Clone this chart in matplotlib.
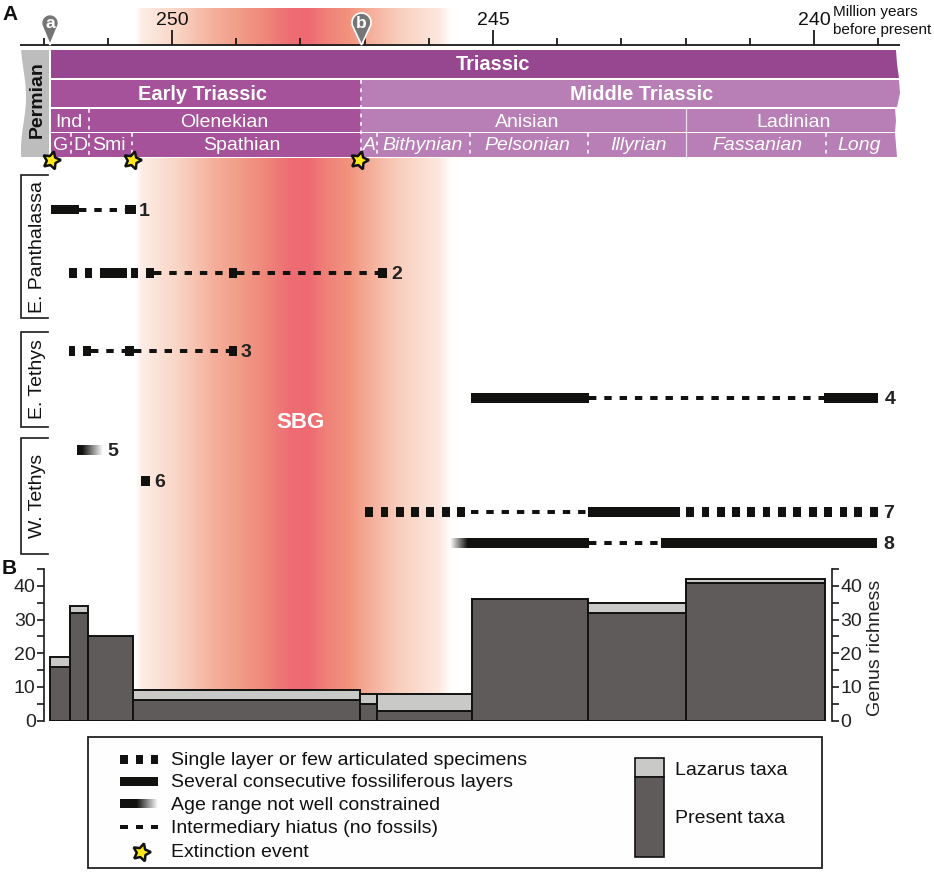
import numpy as np
import matplotlib
matplotlib.use("Agg")
import matplotlib.pyplot as plt
from matplotlib.patches import Polygon, Rectangle
from matplotlib.colors import LinearSegmentedColormap, to_rgb

plt.rcParams['font.family'] = ['Liberation Sans', 'DejaVu Sans']

# ---------- data ----------
time_ticks = list(range(252, 238, -1))
time_labels = [250, 245, 240]

# fossil ranges, ages in Ma (older, younger)
s1_blocks = [(251.89, 251.45), (250.73, 250.56)]
s1_hiatus = [(251.45, 250.73)]
s2_blocks = [(251.60, 251.48), (251.36, 251.25), (251.12, 250.70), (250.64, 250.53),
             (250.40, 250.28), (249.11, 248.99), (246.79, 246.65)]
s2_hiatus = [(250.28, 249.11), (248.99, 246.79)]
s3_blocks = [(251.60, 251.51), (251.39, 251.26), (250.73, 250.59), (249.11, 248.99)]
s3_hiatus = [(251.26, 250.73), (250.59, 249.11)]
s4_blocks = [(245.34, 243.50), (239.84, 239.00)]
s4_hiatus = [(243.50, 239.84)]
s5_fade = [(251.48, 251.09)]
s6_blocks = [(250.48, 250.34)]
s7_blocks = [(246.99, 246.87), (246.75, 246.63), (246.51, 246.39), (246.28, 246.16),
             (246.04, 245.92), (245.79, 245.67), (245.56, 245.44), (243.52, 242.08),
             (241.99, 241.87), (241.75, 241.63), (241.51, 241.39), (241.27, 241.15),
             (241.04, 240.92), (240.80, 240.68), (240.56, 240.44), (240.32, 240.20),
             (240.08, 239.96), (239.84, 239.72), (239.60, 239.48), (239.37, 239.25),
             (239.12, 239.00)]
s7_hiatus = [(245.34, 243.52)]
s8_blocks = [(245.33, 243.50), (242.38, 239.02)]
s8_hiatus = [(243.50, 242.38)]
s8_fade = [(245.67, 245.33)]

# genus richness
bin_edges = [251.90, 251.59, 251.31, 250.61, 247.07, 246.81, 245.33, 243.52, 242.00, 239.83]
present_taxa = [16, 32, 25, 6, 5, 3, 36, 32, 40.7]
total_taxa = [19, 34, 25, 9, 8, 8, 36, 35, 42]

# ---------- layout helpers ----------
W, H = 934, 877
fig = plt.figure(figsize=(W / 100, H / 100), dpi=100, facecolor='white')
PX = 100 / 72  # pixels per point
FS = 14


def age_at(px):
    return 250 + (172 - px) / 64.2


def axes_px(z, xlim=(0, W)):
    a = fig.add_axes([0, 0, 1, 1], zorder=z)
    a.set_xlim(*xlim)
    a.set_ylim(H, 0)
    a.axis('off')
    a.patch.set_alpha(0)
    return a


bg = axes_px(0)
ax_t = axes_px(2, (age_at(0), age_at(W)))   # x axis = age, y = page pixels
ov = axes_px(4)

# ---------- SBG background gradient ----------
stops = [(135, '#FFFFFF'), (141, '#FDEDE6'), (180, '#F9D2C2'), (215, '#F4AE9A'), (242, '#F19B86'),
         (270, '#EF8279'), (290, '#EE6C73'), (310, '#EE6A72'), (325, '#F07F78'), (350, '#F2937F'),
         (365, '#F4A893'), (400, '#F9CFBE'), (440, '#FDE8DF'), (452, '#FFFFFF')]
x0, x1 = stops[0][0], stops[-1][0]
cmap = LinearSegmentedColormap.from_list('sbg', [((p - x0) / (x1 - x0), c) for p, c in stops])
bg.imshow(np.linspace(0, 1, 512)[None, :], extent=(x0, x1, 720, 8), cmap=cmap, aspect='auto', zorder=0)
bg.set_xlim(0, W)
bg.set_ylim(H, 0)
bg.text(300, 422, 'SBG', color='white', fontsize=16, fontweight='bold', ha='center', va='center')

# ---------- time axis ----------
ax_t.plot([age_at(20), age_at(900)], [45, 45], color='#1a1a1a', lw=1.3, solid_capstyle='butt')
for t in time_ticks:
    major = t in time_labels
    ax_t.plot([t, t], [45, 30 if major else 38], color='#1a1a1a', lw=1.3, solid_capstyle='butt')
    if major:
        ax_t.text(t, 20.5, str(t), fontsize=FS, ha='center', va='center', color='#111111')
ov.text(833, 12, 'Million years', fontsize=11, ha='left', va='center', color='#111111')
ov.text(833, 30, 'before present', fontsize=11, ha='left', va='center', color='#111111')

# ---------- stratigraphic band ----------
ov.add_patch(Rectangle((50, 46), 852, 112, fc='white', ec='none', zorder=1))
C1, C2, C3 = '#96478F', '#A5529A', '#B87EB6'
band_right = {50: 896, 78: 899, 80: 899, 107: 897, 109: 895, 132: 895, 133: 895, 157: 897}


def band(x_a, x_b, y_a, y_b, c):
    if x_b >= 890:
        ym = (y_a + y_b) / 2
        pts = [(x_a, y_a), (band_right[y_a], y_a), (band_right[y_a] + 1, ym), (band_right[y_b], y_b), (x_a, y_b)]
    else:
        pts = [(x_a, y_a), (x_b, y_a), (x_b, y_b), (x_a, y_b)]
    ov.add_patch(Polygon(pts, closed=True, fc=c, ec='none', zorder=2))


band(51, 900, 50, 78, C1)
band(51, 360.5, 80, 107, C2)
band(360.5, 900, 80, 107, C3)
band(51, 360.5, 109, 132, C2)
band(360.5, 900, 109, 132, C3)
band(51, 360.5, 133, 157, C2)
band(360.5, 900, 133, 157, C3)

yy = np.linspace(50, 157, 40)
xx = 23.5 - 2.5 * np.cos((yy - 50) / 107 * 2 * np.pi + 0.4)
perm = [(49, 50), (49, 157)] + list(zip(xx[::-1], yy[::-1]))
ov.add_patch(Polygon(perm, closed=True, fc='#BDBDBD', ec='none', zorder=2))
ov.text(37.5, 100, 'Permian', rotation=90, fontsize=FS, fontweight='bold', ha='center', va='center', color='#111111')

names_bold = [('Triassic', 493, 65), ('Early Triassic', 203, 94), ('Middle Triassic', 642, 94)]
for s, x, y in names_bold:
    ov.text(x, y, s, color='white', fontsize=14.4, fontweight='bold', ha='center', va='center', zorder=3)
names_stage = [('Ind', 69, 122.5), ('Olenekian', 224, 122.5), ('Anisian', 527, 122.5), ('Ladinian', 794, 122.5)]
for s, x, y in names_stage:
    ov.text(x, y, s, color='white', fontsize=FS, ha='center', va='center', zorder=3)
names_sub = [('G', 61, 146), ('D', 80, 146), ('Smi', 109, 146), ('Spathian', 242, 146)]
for s, x, y in names_sub:
    ov.text(x, y, s, color='white', fontsize=FS, ha='center', va='center', zorder=3)
names_sub_it = [('A', 369, 146), ('Bithynian', 423, 146), ('Pelsonian', 527, 146), ('Illyrian', 638, 146),
                ('Fassanian', 757, 146), ('Long', 859, 146)]
for s, x, y in names_sub_it:
    ov.text(x, y, s, color='white', fontsize=FS, style='italic', ha='center', va='center', zorder=3)

dot = dict(color='white', lw=1.1, ls=(0, (2.5, 3)), zorder=3)
ov.plot([360.5, 360.5], [80, 157], **dot)
ov.plot([89, 89], [109, 157], **dot)
ov.plot([71, 71], [133, 157], **dot)
for x in (132, 377, 470, 588, 826):
    ov.plot([x, x], [133, 157], **dot)
ov.plot([685.5, 685.5], [109, 157], color='#EBDCEB', lw=0.9, zorder=3)
ov.plot([50, 50], [50, 157], color='white', lw=1.2, zorder=3)

# ---------- pins ----------


def pin(cx, cy, r, tip, letter):
    th = np.radians(np.linspace(-30, 210, 40))
    xs = cx + r * np.cos(th)
    ys = cy - r * np.sin(th)
    pts = list(zip(xs, ys)) + [(cx, tip)]
    ov.add_patch(Polygon(pts, closed=True, fc='#757575', ec='white', lw=1.2, zorder=6))
    ov.text(cx, cy + 1, letter, color='white', fontsize=12.5, fontweight='bold', ha='center', va='center', zorder=7)


pin(50, 23, 8.5, 45, 'a')
pin(361.5, 22.5, 9.5, 45, 'b')

# ---------- stars ----------
star = dict(marker=(5, 1, -15), ms=13.5, mfc='#FFE81A', mec='#111111', mew=1.8, ls='none', zorder=8)
ov.plot([51, 131.5, 359], [159.5, 159.5, 159.5], **star)
ov.plot([141], [852], **star)

# ---------- group brackets ----------
for lab, top, bot, yc in [('E. Panthalassa', 175, 318, 247), ('E. Tethys', 332, 427, 379), ('W. Tethys', 438, 554, 496)]:
    ov.plot([48, 21, 21, 48], [top, top, bot, bot], color='#1a1a1a', lw=1.2, solid_joinstyle='miter')
    ov.text(37.5, yc, lab, rotation=90, fontsize=FS, ha='center', va='center', color='#111111')

# ---------- fossil ranges ----------
BLACK = '#111110'
row_h = 9.3


def blocks(items, y):
    for older, younger in items:
        ax_t.barh(y, older - younger, left=younger, height=row_h, color=BLACK, lw=0, zorder=3)


def hiatus(items, y):
    lw_px = 4.0
    for older, younger in items:
        ax_t.plot([older, younger], [y, y], color=BLACK, lw=lw_px / PX, solid_capstyle='butt',
                  dash_capstyle='butt', dashes=(7.4 / lw_px, 7.9 / lw_px), zorder=2)


def fade(items, y, reverse=False):
    for older, younger in items:
        g = np.zeros((1, 128, 4))
        g[..., :3] = to_rgb(BLACK)
        a = np.clip(np.linspace(1.25, 0, 128), 0, 1)
        g[..., 3] = a[::-1] if reverse else a
        ax_t.imshow(g, extent=(older, younger, y + row_h / 2, y - row_h / 2), aspect='auto', zorder=3)
    ax_t.set_xlim(age_at(0), age_at(W))
    ax_t.set_ylim(H, 0)


Y1, Y2, Y3, Y4, Y5, Y6, Y7, Y8 = 209.5, 273, 351, 398, 450, 481, 512, 543
blocks(s1_blocks, Y1); hiatus(s1_hiatus, Y1)
blocks(s2_blocks, Y2); hiatus(s2_hiatus, Y2)
blocks(s3_blocks, Y3); hiatus(s3_hiatus, Y3)
blocks(s4_blocks, Y4); hiatus(s4_hiatus, Y4)
fade(s5_fade, Y5)
blocks(s6_blocks, Y6)
blocks(s7_blocks, Y7); hiatus(s7_hiatus, Y7)
blocks(s8_blocks, Y8); hiatus(s8_hiatus, Y8); fade(s8_fade, Y8, reverse=True)

for lab, x, y in [('1', 144, Y1), ('2', 397, Y2), ('3', 246, Y3), ('4', 890, Y4), ('5', 113, Y5),
                  ('6', 160, Y6), ('7', 889, Y7), ('8', 889, Y8)]:
    ov.text(x, y + 1.5, lab, fontsize=14, fontweight='bold', ha='center', va='center', color='#222222')

ov.text(2, 14, 'A', fontsize=15, fontweight='bold', ha='left', va='center', color='#111111')
ov.text(2, 568.5, 'B', fontsize=15, fontweight='bold', ha='left', va='center', color='#111111')

# ---------- richness panel ----------
L, R, T, B = 44, 832, 569, 720.7
ax_b = fig.add_axes([L / W, 1 - B / H, (R - L) / W, (B - T) / H], zorder=3)
ax_b.patch.set_alpha(0)
ax_b.set_xlim(age_at(L), age_at(R))
ax_b.set_ylim(0, 45)
DARK, LIGHT = '#5F5B5A', '#C9C9C7'
for i in range(len(present_taxa)):
    left, width = bin_edges[i + 1], bin_edges[i] - bin_edges[i + 1]
    ax_b.bar(left, present_taxa[i], width=width, align='edge', color=DARK, ec='#111111', lw=1.4, zorder=2)
    lazarus = total_taxa[i] - present_taxa[i]
    if lazarus > 0:
        ax_b.bar(left, lazarus, bottom=present_taxa[i], width=width, align='edge', color=LIGHT,
                 ec='#111111', lw=1.4, zorder=2)
for sp in ('top', 'bottom'):
    ax_b.spines[sp].set_visible(False)
for sp in ('left', 'right'):
    ax_b.spines[sp].set_linewidth(1.2)
    ax_b.spines[sp].set_color('#1a1a1a')
ax_b.set_xticks([])
ax_b.set_yticks(range(0, 46, 5))
ax_b.set_yticklabels(['0', '', '10', '', '20', '', '30', '', '40', ''], fontsize=FS, color='#222222')
ax_b.tick_params(axis='y', length=5, width=1.2, color='#1a1a1a', pad=1, left=True, right=True,
                 labelleft=True, labelright=True)
ov.text(876, 648, 'Genus richness', rotation=90, fontsize=FS, ha='center', va='center', color='#222222')

# ---------- legend ----------
ov.add_patch(Rectangle((88, 737), 734, 131, fc='#FEFEFE', ec='#222222', lw=1.3))
rows = [('Single layer or few articulated specimens', 765), ('Several consecutive fossiliferous layers', 787),
        ('Age range not well constrained', 810), ('Intermediary hiatus (no fossils)', 833), ('Extinction event', 857)]
for s, y in rows:
    ov.text(171, y, s, fontsize=FS, ha='left', va='baseline', color='#111111')
for x in (120, 135.5, 150.5):
    ov.add_patch(Rectangle((x, 754.5), 7.5, 9, fc=BLACK, ec='none'))
ov.add_patch(Rectangle((120, 776.5), 38, 9, fc=BLACK, ec='none'))
g = np.zeros((1, 128, 4))
g[..., :3] = to_rgb(BLACK)
g[..., 3] = np.clip(np.linspace(1.8, 0, 128), 0, 1)
ov.imshow(g, extent=(120, 158, 808.5, 799.5), aspect='auto', zorder=2)
ov.set_xlim(0, W)
ov.set_ylim(H, 0)
for x in (120, 135.5, 150.5):
    ov.add_patch(Rectangle((x, 825), 7.5, 4, fc=BLACK, ec='none'))
ov.add_patch(Rectangle((635, 758), 29, 19, fc=LIGHT, ec='#111111', lw=1.2))
ov.add_patch(Rectangle((635, 777), 29, 80, fc=DARK, ec='#111111', lw=1.2))
ov.text(675, 775, 'Lazarus taxa', fontsize=FS, ha='left', va='baseline', color='#111111')
ov.text(675, 823, 'Present taxa', fontsize=FS, ha='left', va='baseline', color='#111111')

fig.savefig('out.png', dpi=100, facecolor='white')
